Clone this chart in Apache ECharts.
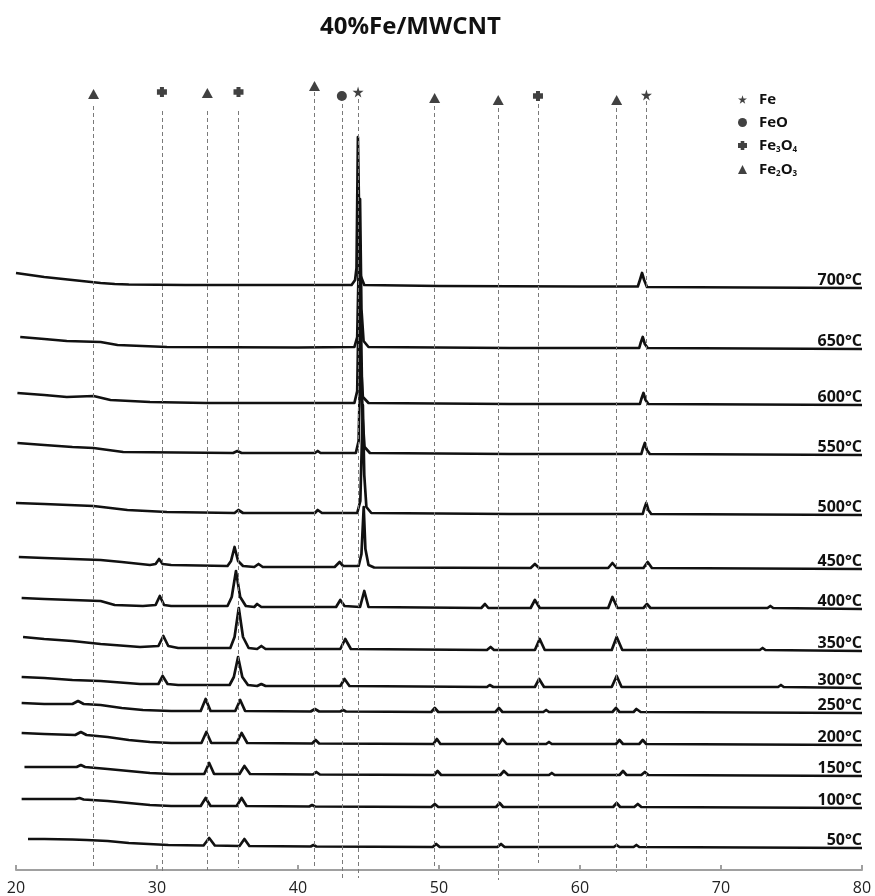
<!DOCTYPE html>
<html>
<head>
<meta charset="utf-8">
<script src="https://cdn.jsdelivr.net/npm/echarts@6/dist/echarts.min.js"></script>
<style>
html,body{margin:0;padding:0;background:#fff;}
#chart{width:875px;height:896px;}
</style>
</head>
<body>
<div id="chart"></div>
<script>
// ---------------- DATA ----------------
const chartTitle = '40%Fe/MWCNT';
const xTicks = [20, 30, 40, 50, 60, 70, 80];
const temperatures = ['700°C','650°C','600°C','550°C','500°C','450°C','400°C','350°C','300°C','250°C','200°C','150°C','100°C','50°C'];
// vertical offset of each pattern (intensity units)
const offsets = [582, 521, 465, 415, 355, 301, 261, 219, 182, 157, 125, 94, 62, 22];

// [2θ, intensity] points
const trace700 = [[20.0,15],[21,13],[22,11],[23,9.5],[24,8],[25,6.5],[26,5],[27,4],[28,3.5],[32,3],[40,3],[43.8,3],[44.05,8],[44.15,20],[44.25,151],[44.35,60],[44.45,12],[44.7,3],[50,2],[60,1.5],[64.1,1.5],[64.25,8],[64.4,15],[64.55,8],[64.75,1],[72,0.5],[80,0]];
const trace650 = [[20.3,12],[22,10],[23.6,8],[26,7],[27.2,4],[30.7,2],[40,1.5],[44.0,2],[44.2,12],[44.4,150],[44.5,40],[44.65,8],[45,2],[55,1],[64.2,1],[64.3,6],[64.45,12],[64.6,5],[64.8,1],[80,0]];
const trace600 = [[20.1,12],[22,10],[23.6,8],[25.5,9],[26.7,5],[29.5,3],[33.5,2],[44.0,2],[44.2,14],[44.35,140],[44.45,45],[44.6,8],[45,2],[55,1],[64.25,1],[64.35,6],[64.5,12],[64.65,5],[64.85,1],[80,0]];
const trace550 = [[20.1,12],[22,10],[24,8],[25.5,7],[27.6,3],[35.4,2],[35.7,4],[36.0,2],[41.2,2],[41.4,4],[41.6,2],[44.1,2],[44.3,14],[44.47,130],[44.57,40],[44.72,8],[45.1,2],[55,1],[64.35,1],[64.45,6],[64.6,12],[64.75,5],[64.95,1],[80,0]];
const trace500 = [[20.0,12],[22,11],[25.5,9],[27.9,5],[30.7,3],[35.5,2],[35.77,5],[36.1,2],[41.2,2],[41.4,5],[41.7,2],[44.2,2],[44.42,14],[44.6,110],[44.7,40],[44.85,8],[45.2,2],[55,1],[64.45,1],[64.55,6],[64.7,12],[64.85,5],[65.05,1],[80,0]];
const trace450 = [[20.2,12],[22,11],[24,10],[26,9],[27.5,7],[29.5,4],[29.9,5],[30.15,10],[30.4,5],[31,4],[35.0,3],[35.25,8],[35.5,22],[35.75,8],[36.1,3],[36.9,2],[37.2,5],[37.5,2],[42.6,2],[42.95,7],[43.2,3],[44.3,3],[44.5,15],[44.66,62],[44.78,20],[45.0,4],[45.4,1.5],[56.5,1],[56.8,5],[57.1,1],[62.0,1],[62.3,6],[62.6,1],[64.5,1],[64.8,7],[65.1,1],[80,0]];
const trace400 = [[20.4,11],[22,10],[24,9],[26,8],[27,4],[29,3],[29.9,4],[30.2,13],[30.5,4],[31,3],[35.0,3],[35.3,12],[35.6,38],[35.9,12],[36.3,3],[36.9,2],[37.1,5],[37.4,2],[42.7,2],[43.0,9],[43.3,3],[44.4,2],[44.7,18],[45.0,2],[53.0,1],[53.26,5],[53.5,1],[56.5,1],[56.8,9],[57.15,1],[62.0,1],[62.3,12],[62.65,1],[64.5,1],[64.75,5],[65.0,1],[73.3,1],[73.5,3],[73.7,1],[80,0]];
const trace350 = [[20.5,14],[22,12],[24,10],[26,7],[28.8,4],[30.1,5],[30.45,15],[30.8,5],[31.5,3],[35.2,3],[35.5,14],[35.8,43],[36.1,14],[36.5,3],[37.1,2],[37.4,5],[37.7,2],[43.0,2],[43.35,12],[43.75,2],[53.4,1],[53.66,4],[53.9,1],[56.8,1],[57.14,12],[57.5,1],[62.25,1],[62.6,14],[63.0,1],[72.75,1],[72.95,3],[73.15,1],[80,0]];
const trace300 = [[20.4,11],[22,10],[24,8],[26,7],[28.8,4],[30.1,4],[30.4,12],[30.75,4],[31.5,3],[35.15,3],[35.45,11],[35.75,31],[36.05,11],[36.45,3],[37.1,2],[37.4,4],[37.7,2],[43.0,2],[43.3,9],[43.65,2],[53.4,1],[53.6,3],[53.85,1],[56.8,1],[57.1,9],[57.45,1],[62.25,1],[62.6,12],[62.95,1],[74.05,1],[74.25,3],[74.45,1],[80,0]];
const trace250 = [[20.4,10],[22,9],[24.0,9],[24.4,12],[24.8,9],[26,8],[27.5,5],[29,3],[31,2],[33.1,2],[33.45,14],[33.8,2],[35.55,2],[35.9,13],[36.25,2],[40.9,1.5],[41.2,4],[41.5,1.5],[43.0,1.5],[43.2,3],[43.4,1.5],[49.45,1],[49.7,5],[49.95,1],[54.0,1],[54.25,5],[54.5,1],[57.4,1],[57.6,3],[57.8,1],[62.3,1],[62.55,5],[62.8,1],[63.8,1],[64.0,4],[64.3,1],[80,0]];
const trace200 = [[20.4,12],[22,11],[24.2,10],[24.6,13],[25.0,10],[26.5,8],[28,5],[29.5,3],[31,2],[33.15,2],[33.5,13],[33.85,2],[35.65,2],[36.0,12],[36.4,2],[41.0,1.5],[41.25,5],[41.5,1.5],[49.6,1],[49.85,6],[50.1,1],[54.25,1],[54.5,6],[54.8,1],[57.6,1],[57.8,3],[58.0,1],[62.55,1],[62.8,5],[63.05,1],[64.2,1],[64.45,5],[64.7,1],[80,0]];
const trace150 = [[20.6,9],[22,9],[24.3,9],[24.6,11],[24.9,9],[26.5,7],[28,5],[29.5,3],[31,2],[33.35,2],[33.7,13],[34.05,2],[35.85,2],[36.2,10],[36.6,2],[41.05,1.5],[41.3,4],[41.55,1.5],[49.65,1],[49.9,5],[50.15,1],[54.35,1],[54.6,5],[54.9,1],[57.8,1],[58.0,3],[58.2,1],[62.8,1],[63.05,5],[63.3,1],[64.35,1],[64.6,4],[64.85,1],[80,0]];
const trace100 = [[20.4,9],[22,9],[24.2,9],[24.5,10],[24.8,8.5],[26.5,7],[28,5],[29.5,3],[31,2],[33.1,2],[33.45,10],[33.8,2],[35.65,2],[36.0,10],[36.35,2],[40.8,1.5],[41.0,3],[41.2,1.5],[49.45,1],[49.7,4],[49.95,1],[54.05,1],[54.3,5],[54.55,1],[62.35,1],[62.6,5],[62.85,1],[63.85,1],[64.1,4],[64.35,1],[80,0]];
const trace50 = [[20.85,9],[22,9],[24,8.5],[25,8],[26.5,7],[28,5],[30.8,3],[33.3,2.5],[33.7,10],[34.1,2.5],[35.85,2],[36.2,9],[36.55,2],[40.9,1.5],[41.1,3],[41.3,1.5],[49.55,1],[49.8,4],[50.05,1],[54.15,1],[54.4,4],[54.65,1],[62.4,1],[62.6,3],[62.8,1],[63.8,1],[64.0,3],[64.2,1],[80,0]];
const traces = [trace700, trace650, trace600, trace550, trace500, trace450, trace400, trace350, trace300, trace250, trace200, trace150, trace100, trace50];

// reference phase positions (2θ) and their phase
const phaseNames = ['Fe', 'FeO', 'Fe3O4', 'Fe2O3'];
const phasePositions = [25.5, 30.35, 33.57, 35.78, 41.17, 43.11, 44.26, 49.69, 54.2, 57.02, 62.6, 64.71];
const phaseOfLine   = ['Fe2O3','Fe3O4','Fe2O3','Fe3O4','Fe2O3','FeO','Fe','Fe2O3','Fe2O3','Fe3O4','Fe2O3','Fe'];
// marker level / dashed line extent (intensity units)
const markerLevels = [776, 778, 777, 778, 784, 774, 778, 772, 770, 774, 770, 775];
const lineTops     = [764, 759, 759, 759, 778, 766, 771, 764, 762, 766, 762, 769];
const lineBottoms  = [2, -2, 0, 2, 2, -10, -8, 2, -10, 7, -2, 0];

// ---------------- STYLE ----------------
const FONT = 'Open Sans';
const STAR = 'path://M50,0 L61,35 L98,35 L68,57 L79,91 L50,70 L21,91 L32,57 L2,35 L39,35 Z';
const PLUS = 'path://M30,0 L70,0 L70,22 L100,22 L100,78 L70,78 L70,100 L30,100 L30,78 L0,78 L0,22 L30,22 Z';
const phaseSymbol = {Fe: STAR, FeO: 'circle', Fe3O4: PLUS, Fe2O3: 'triangle'};
const phaseSize = {Fe: 11, FeO: 10, Fe3O4: 10, Fe2O3: [11, 10]};

const series = [];
traces.forEach((pts, i) => {
  series.push({
    type: 'line',
    name: temperatures[i],
    data: pts.map(p => [p[0], p[1] + offsets[i]]),
    symbol: 'none',
    smooth: false,
    silent: true,
    z: 3,
    lineStyle: {color: '#111', width: 2.7, join: 'round'},
    markPoint: {
      symbol: 'circle', symbolSize: 0, silent: true,
      data: [{coord: [80, offsets[i]]}],
      label: {
        show: true, formatter: temperatures[i], position: [0, 0],
        align: 'right', verticalAlign: 'bottom',
        fontFamily: FONT, fontSize: 16, fontWeight: 'bold', color: '#111'
      }
    }
  });
});

phaseNames.forEach(ph => {
  const idx = phasePositions.map((p, k) => k).filter(k => phaseOfLine[k] === ph);
  series.push({
    type: 'scatter',
    name: ph,
    symbol: phaseSymbol[ph],
    symbolSize: phaseSize[ph],
    itemStyle: {color: '#111'},
    silent: true,
    z: 4,
    data: idx.map(k => [phasePositions[k], markerLevels[k]]),
    markLine: {
      silent: true,
      symbol: ['none', 'none'],
      label: {show: false},
      lineStyle: {color: '#7a7a7a', width: 1, type: [4, 3]},
      data: idx.map(k => [{coord: [phasePositions[k], lineTops[k]]}, {coord: [phasePositions[k], lineBottoms[k]]}])
    }
  });
});

const legendLabel = {
  'Fe': '{b|Fe}',
  'FeO': '{b|FeO}',
  'Fe3O4': '{b|Fe}{s|3}{b|O}{s|4}',
  'Fe2O3': '{b|Fe}{s|2}{b|O}{s|3}'
};

const chart = echarts.init(document.getElementById('chart'), null, {renderer: 'canvas'});
chart.setOption({
  animation: false,
  backgroundColor: '#fff',
  title: {
    text: chartTitle, left: 315, top: 10,
    textStyle: {fontFamily: FONT, fontSize: 24, fontWeight: 'bold', color: '#111'}
  },
  legend: {
    data: phaseNames.map(n => ({name: n, icon: phaseSymbol[n]})),
    orient: 'vertical', left: 738, top: 92, padding: 0,
    itemWidth: 9, itemHeight: 9, itemGap: 8,
    selectedMode: false,
    formatter: n => legendLabel[n],
    textStyle: {
      fontFamily: FONT, color: '#111', padding: [0, 0, 0, 7],
      rich: {
        b: {fontFamily: FONT, fontSize: 15, fontWeight: 'bold', color: '#111', lineHeight: 17},
        s: {fontFamily: FONT, fontSize: 8, fontWeight: 'bold', color: '#111', lineHeight: 17, verticalAlign: 'bottom', padding: [7, 0, 0, 0]}
      }
    }
  },
  grid: {left: 16, right: 13, top: 70, bottom: 16, containLabel: false, outerBoundsMode: 'none'},
  xAxis: {
    type: 'value', min: xTicks[0], max: xTicks[xTicks.length - 1], interval: 10,
    axisLine: {onZero: true, lineStyle: {color: '#a0a0a0', width: 2}},
    axisTick: {show: true, inside: true, length: 5, lineStyle: {color: '#a0a0a0', width: 2}},
    axisLabel: {margin: 0, lineHeight: 16, fontFamily: FONT, fontSize: 16, color: '#222'},
    splitLine: {show: false}
  },
  yAxis: {
    type: 'value', min: -10, max: 800, show: false, splitLine: {show: false}
  },
  series: series
});
</script>
</body>
</html>
